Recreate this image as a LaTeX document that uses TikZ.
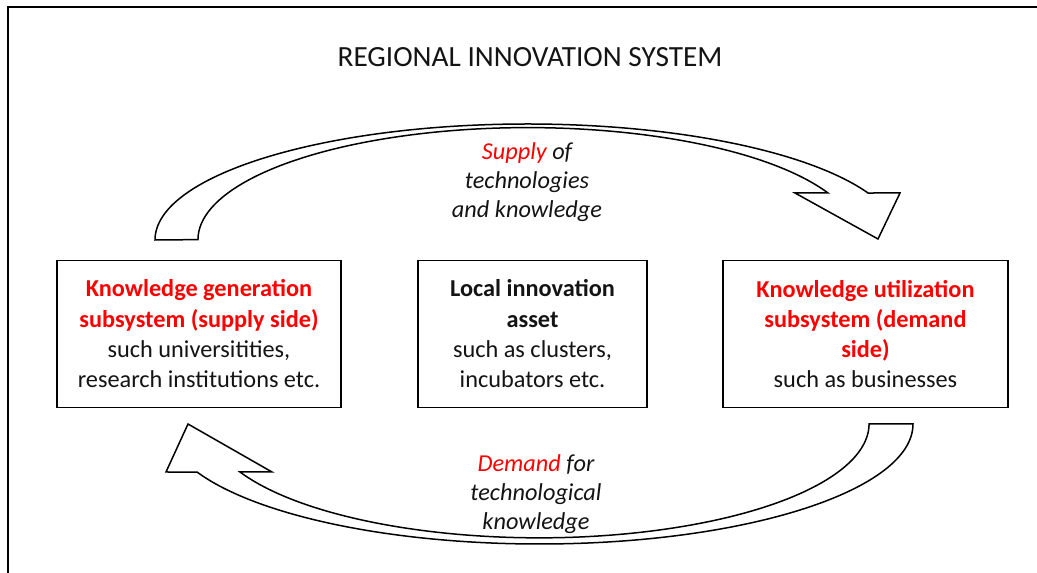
\documentclass[tikz,border=0pt]{standalone}
\usepackage{fontspec}
\setmainfont{Carlito}
\definecolor{kred}{RGB}{255,0,0}
\definecolor{ktext}{RGB}{20,20,20}
\begin{document}
\begin{tikzpicture}[x=1pt,y=1pt,
  box/.style={draw=black, line width=1.8pt, fill=white, minimum height=147pt, align=center, inner sep=0pt, text=ktext, font=\fontsize{24.3}{30.3}\selectfont},
  blockarrow/.style={draw=black, line width=1.5pt, fill=white, line join=miter},
  lab/.style={align=center, text=ktext, font=\fontsize{24.3}{29.2}\selectfont\itshape},
  frame/.style={draw=black, line width=2pt}]
\useasboundingbox (0,0) rectangle (1037,573);
\clip (0,0) rectangle (1037,573);
\draw[frame] (8,-10) -- (8,566) -- (1050,566);
\node[text=ktext, font=\fontsize{29.3}{34}\selectfont] (title) at (530,516) {REGIONAL INNOVATION SYSTEM};
% supply arrow
\draw[blockarrow] (155,333) arc[start angle=180, end angle=23.9, x radius=372.5, y radius=116]
  -- (900,380) -- (878,334) -- (795,380) -- (828,380)
  arc[start angle=24.6, end angle=180, x radius=330, y radius=112] -- cycle;
% demand arrow
\draw[blockarrow] (913,149) arc[start angle=0, end angle=-156.4, x radius=373.6, y radius=120]
  -- (166,101) -- (188,149) -- (272,101) -- (240,101)
  arc[start angle=-155, end angle=0, x radius=330, y radius=114] -- cycle;
\node[lab] (supply) at (527,391) {\textcolor{kred}{Supply} of\\technologies\\and knowledge};
\node[lab] (demand) at (536,79) {\textcolor{kred}{Demand} for\\technological\\knowledge};
\node[box, minimum width=284pt] (gen) at (199,239) {\textcolor{kred}{\bfseries Knowledge generation}\\\textcolor{kred}{\bfseries subsystem (supply side)}\\such universitities,\\research institutions etc.};
\node[box, minimum width=229pt] (local) at (532.5,239) {\bfseries Local innovation\\\bfseries asset\\such as clusters,\\incubators etc.};
\node[box, minimum width=285pt] (util) at (865.5,239) {\textcolor{kred}{\bfseries Knowledge utilization}\\\textcolor{kred}{\bfseries subsystem (demand}\\\textcolor{kred}{\bfseries side)}\\such as businesses};
\end{tikzpicture}
\end{document}
